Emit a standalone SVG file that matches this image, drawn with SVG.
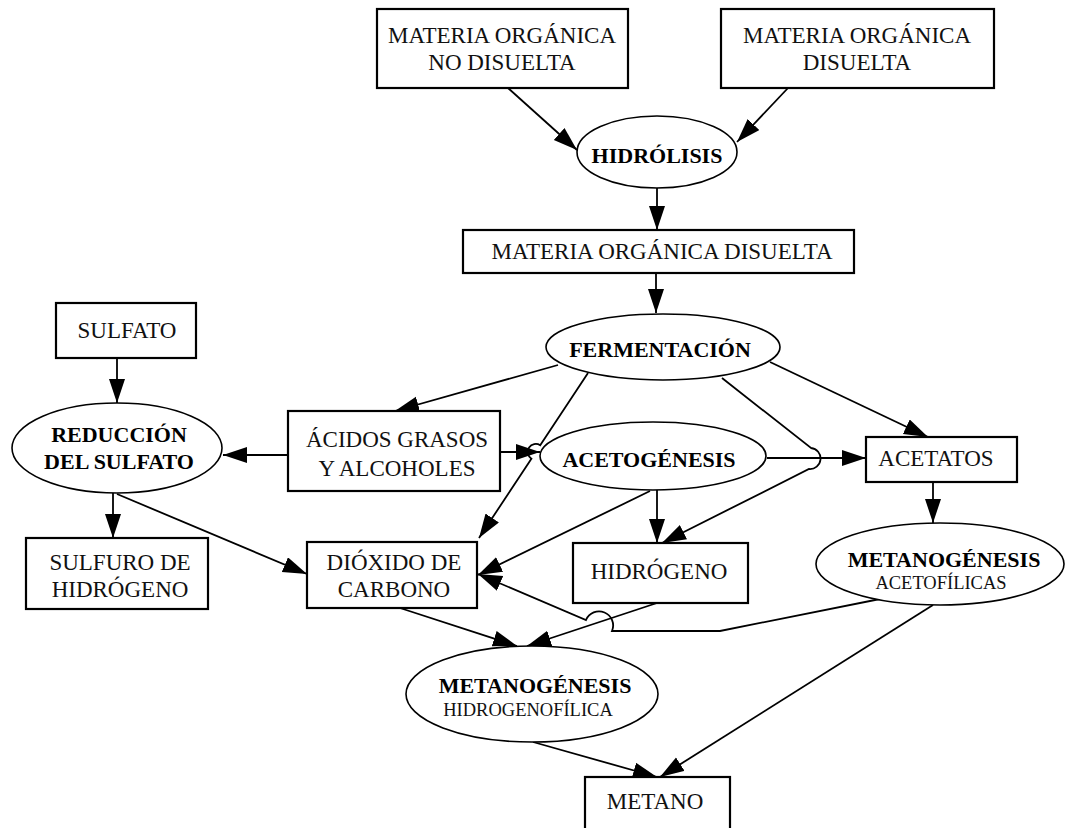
<svg xmlns="http://www.w3.org/2000/svg" width="1067" height="828" viewBox="0 0 1067 828">
<style>
.bg{fill:#fff}
.box{fill:#fff;stroke:#000;stroke-width:2.2}
.ell{fill:#fff;stroke:#000;stroke-width:1.6}
.t{font-family:"Liberation Serif","Times New Roman",serif;font-size:23px;fill:#111;text-anchor:middle}
.b{font-family:"Liberation Serif","Times New Roman",serif;font-size:22px;font-weight:bold;fill:#000;text-anchor:middle}
.s{font-family:"Liberation Serif","Times New Roman",serif;font-size:18.5px;fill:#111;text-anchor:middle}
.c{fill:none;stroke:#000;stroke-width:1.8}
.a{marker-end:url(#ah)}
</style>
<defs>
<marker id="ah" markerUnits="userSpaceOnUse" markerWidth="26" markerHeight="18" refX="24" refY="8" orient="auto">
<path d="M0,0 L24,8 L0,16 z" fill="#000"/>
</marker>
</defs>
<rect class="bg" x="0" y="0" width="1067" height="828"/>
<g id="connectors">
<path class="c a" d="M508,88 L577,150"/>
<path class="c a" d="M788,88 L737,142"/>
<path class="c a" d="M657,188 L657,230"/>
<path class="c a" d="M656,273 L656,313"/>
<path class="c a" d="M558,365 L395,411"/>
<path class="c a" d="M588,373 L540.2,445.3 A8,8 0 0 0 531.4,458.7 L479,538"/>
<path class="c a" d="M722,378 L811,448 A10.5,10.5 0 0 1 809,469 L662,543"/>
<path class="c a" d="M770,362 L928,437"/>
<path class="c a" d="M288,455 L223,455"/>
<path class="c a" d="M500,452 L540,452"/>
<path class="c a" d="M767,458 L866,458"/>
<path class="c a" d="M117,358 L117,403"/>
<path class="c a" d="M113,493 L113,538"/>
<path class="c a" d="M117,494 L307,574"/>
<path class="c a" d="M650,491 L478,575"/>
<path class="c a" d="M657,490 L657,543"/>
<path class="c a" d="M933,482 L933,523"/>
<path class="c a" d="M880,599 L720,631 L612,631 A14.1,14.1 0 0 0 586,620 L478,574"/>
<path class="c a" d="M660,602 L527,646"/>
<path class="c a" d="M400,608 L517,646"/>
<path class="c a" d="M533,742 L657,777"/>
<path class="c a" d="M933,605 L660,777"/>
</g>
<g id="mo-no-disuelta">
<rect class="box" x="377" y="9" width="251" height="79"/>
<text class="t" x="502" y="43">MATERIA ORGÁNICA</text>
<text class="t" x="502" y="70">NO DISUELTA</text>
</g>
<g id="mo-disuelta-top">
<rect class="box" x="721" y="9" width="273" height="79"/>
<text class="t" x="857" y="43">MATERIA ORGÁNICA</text>
<text class="t" x="857" y="70">DISUELTA</text>
</g>
<g id="hidrolisis">
<ellipse class="ell" cx="657" cy="152" rx="80" ry="36"/>
<text class="b" x="657" y="163">HIDRÓLISIS</text>
</g>
<g id="mo-disuelta">
<rect class="box" x="463" y="230" width="391" height="43"/>
<text class="t" x="662" y="259">MATERIA ORGÁNICA DISUELTA</text>
</g>
<g id="fermentacion">
<ellipse class="ell" cx="663" cy="347" rx="117" ry="33"/>
<text class="b" x="660" y="357">FERMENTACIÓN</text>
</g>
<g id="sulfato">
<rect class="box" x="56" y="303" width="140" height="55"/>
<text class="t" x="127" y="338">SULFATO</text>
</g>
<g id="reduccion">
<ellipse class="ell" cx="117" cy="448" rx="105" ry="45"/>
<text class="b" x="119" y="442">REDUCCIÓN</text>
<text class="b" x="119" y="469">DEL SULFATO</text>
</g>
<g id="acidos">
<rect class="box" x="288" y="411" width="212" height="80"/>
<text class="t" x="397" y="447">ÁCIDOS GRASOS</text>
<text class="t" x="397" y="476">Y ALCOHOLES</text>
</g>
<g id="acetogenesis">
<ellipse class="ell" cx="653" cy="456" rx="113" ry="34"/>
<text class="b" x="649" y="467">ACETOGÉNESIS</text>
</g>
<g id="acetatos">
<rect class="box" x="866" y="437" width="151" height="45"/>
<text class="t" x="936" y="466">ACETATOS</text>
</g>
<g id="sulfuro">
<rect class="box" x="26" y="538" width="182" height="71"/>
<text class="t" x="120" y="570">SULFURO DE</text>
<text class="t" x="120" y="597">HIDRÓGENO</text>
</g>
<g id="dioxido">
<rect class="box" x="307" y="542" width="170" height="66"/>
<text class="t" x="394" y="570">DIÓXIDO DE</text>
<text class="t" x="394" y="597">CARBONO</text>
</g>
<g id="hidrogeno">
<rect class="box" x="573" y="543" width="175" height="60"/>
<text class="t" x="659" y="579">HIDRÓGENO</text>
</g>
<g id="metanogenesis-acetofilicas">
<ellipse class="ell" cx="940" cy="564" rx="124" ry="41"/>
<text class="b" x="944" y="567">METANOGÉNESIS</text>
<text class="s" x="941" y="589">ACETOFÍLICAS</text>
</g>
<g id="metanogenesis-hidrogenofilica">
<ellipse class="ell" cx="532" cy="694" rx="126" ry="48"/>
<text class="b" x="535" y="693">METANOGÉNESIS</text>
<text class="s" x="528" y="716">HIDROGENOFÍLICA</text>
</g>
<g id="metano">
<rect class="box" x="585" y="777" width="145" height="70"/>
<text class="t" x="655" y="809">METANO</text>
</g>
</svg>
